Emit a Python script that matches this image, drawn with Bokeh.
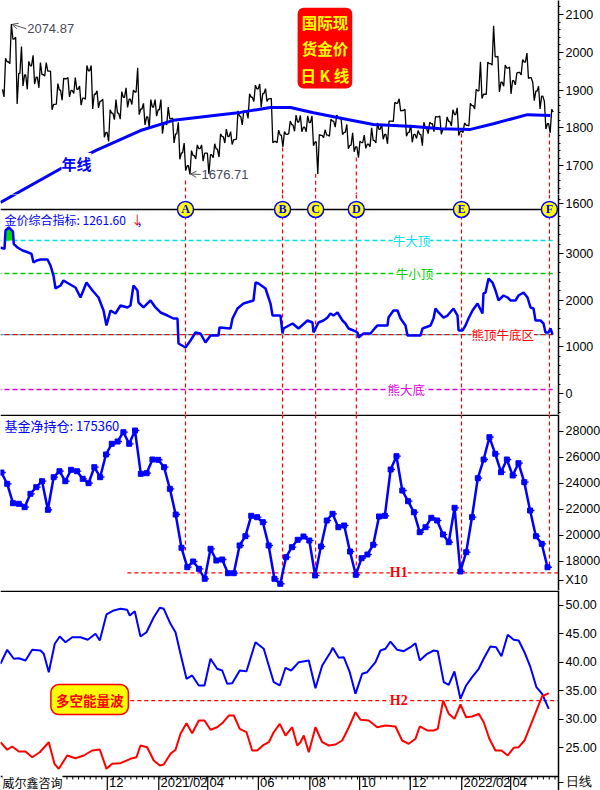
import datetime as dt
from bokeh.plotting import figure
from bokeh.layouts import column
from bokeh.models import Range1d, FixedTicker, Label, Span, Arrow, OpenHead, NumeralTickFormatter
from bokeh.core.properties import value
from bokeh.embed import file_html
from bokeh.resources import INLINE

# ---------------- DATA (x unit = weeks since 2020-07-27) ----------------
START = dt.date(2020, 7, 27)

# weekly gold price, week k = 0..94
price_open0 = 1902
price_high = [1984, 2074.87, 2040, 2015, 1976, 1992, 1973, 1973, 1950, 1917,
              1931, 1933, 1933, 1911, 1965, 1965, 1898, 1876, 1848, 1875,
              1896, 1906, 1900, 1959, 1865, 1875, 1875, 1875, 1855, 1826,
              1815, 1760, 1740, 1755, 1755, 1733, 1758, 1784, 1797, 1790,
              1845, 1845, 1890, 1913, 1916, 1904, 1878, 1794, 1790, 1818,
              1834, 1833, 1832, 1832, 1782, 1795, 1823, 1834, 1827, 1809,
              1787, 1765, 1781, 1800, 1813, 1810, 1818, 1868, 1877, 1849,
              1808, 1793, 1815, 1815, 1830, 1831, 1829, 1848, 1853, 1813,
              1865, 1902, 1975, 1974, 2070, 1989, 1966, 1961, 1945, 1981,
              1998, 1920, 1910, 1870, 1849]
price_low = [1882, 1970, 1863, 1911, 1902, 1916, 1906, 1937, 1848, 1863,
             1873, 1882, 1891, 1860, 1876, 1850, 1853, 1775, 1764, 1822,
             1823, 1854, 1862, 1835, 1808, 1802, 1831, 1785, 1808, 1760,
             1717, 1687, 1676.71, 1718, 1712, 1678, 1721, 1723, 1760, 1756,
             1770, 1808, 1825, 1870, 1855, 1870, 1761, 1761, 1750, 1785,
             1791, 1790, 1790, 1753, 1678, 1774, 1778, 1802, 1782, 1745,
             1737, 1721, 1746, 1750, 1760, 1770, 1758, 1817, 1845, 1778,
             1762, 1772, 1753, 1785, 1790, 1783, 1795, 1805, 1780, 1788,
             1805, 1850, 1878, 1889, 1966, 1895, 1910, 1890, 1914, 1940,
             1931, 1872, 1850, 1797, 1787]
price_close = [1975, 2035, 1944, 1940, 1964, 1934, 1941, 1950, 1862, 1900,
               1930, 1899, 1902, 1879, 1951, 1889, 1871, 1788, 1839, 1839,
               1881, 1876, 1895, 1850, 1829, 1855, 1848, 1813, 1824, 1784,
               1734, 1700, 1727, 1745, 1733, 1729, 1744, 1777, 1777, 1769,
               1831, 1843, 1881, 1903, 1891, 1877, 1764, 1781, 1783, 1808,
               1815, 1802, 1814, 1763, 1780, 1781, 1818, 1827, 1788, 1754,
               1750, 1761, 1757, 1767, 1796, 1783, 1818, 1865, 1846, 1788,
               1783, 1783, 1798, 1811, 1829, 1797, 1817, 1835, 1791, 1807,
               1859, 1898, 1889, 1970, 1988, 1921, 1958, 1925, 1947, 1974,
               1933, 1897, 1884, 1811, 1842]

# 年线 (annual moving average)
ma_x = [-0.24, 10.09, 16.11, 23.85, 29.53, 37.62, 41.06, 46.23, 49.67, 53.63,
        59.48, 63.95, 70.84, 75.49, 80.65, 84.6, 90.45, 94.41]
ma_v = [1603, 1692, 1740, 1793, 1820, 1835, 1841, 1854, 1854, 1840,
        1822, 1809, 1804, 1798, 1796, 1811, 1835, 1833]

# 金价综合指标
idx_x = [-0.24, 0.45, 0.62, 1.2, 1.9, 2.05, 2.69, 3.55, 4.58, 5.1,
         5.44, 6.0, 6.64, 7.85, 8.36, 8.88, 9.23, 10.09, 10.6, 11.46,
         12.67, 13.53, 14.56, 15.59, 16.63, 17.49, 18.0, 18.69, 19.55, 20.41,
         21.62, 22.13, 22.65, 23.34, 23.51, 24.37, 25.58, 26.44, 27.30, 28.5,
         29.53, 30.22, 30.40, 31.60, 32.46, 33.32, 34.18, 35.04, 35.90, 37.28,
         37.45, 39.35, 39.69, 40.55, 41.58, 43.30, 43.65, 44.17, 45.37, 46.23,
         46.58, 47.95, 48.30, 48.47, 50.02, 51.05, 52.6, 53.46, 53.63, 54.49,
         55.35, 56.04, 56.55, 57.07, 57.76, 58.62, 59.14, 59.66, 60.52, 61.21,
         61.38, 62.24, 63.44, 64.3, 64.65, 66.37, 66.54, 67.4, 68.09, 68.61,
         69.47, 69.81, 72.05, 72.39, 73.77, 74.29, 74.63, 75.15, 76.01, 76.70,
         77.73, 78.42, 78.60, 79.29, 79.79, 80.31, 81.0, 81.86, 82.72, 82.89,
         83.24, 83.76, 84.44, 84.96, 85.48, 86.34, 87.03, 87.54, 88.40, 88.92,
         89.78, 90.47, 90.98, 91.50, 91.84, 92.70, 93.22, 93.56, 94.08, 94.42,
         94.77]
idx_v = [3128, 3100, 3493, 3557, 3470, 3200, 3128, 3064, 3021, 2990,
         2807, 2850, 2871, 2871, 2743, 2528, 2250, 2314, 2421, 2357,
         2271, 2057, 2378, 2207, 2057, 1778, 1457, 1778, 1714, 1886,
         1843, 1886, 2314, 2207, 1950, 1843, 1993, 1843, 1736, 1671,
         1607, 1607, 1071, 986, 1136, 1307, 1286, 1093, 1243, 1243,
         1414, 1393, 1607, 1821, 1928, 1993, 2378, 2357, 2250, 1928,
         1671, 1671, 1286, 1393, 1500, 1393, 1564, 1521, 1307, 1521,
         1564, 1628, 1714, 1671, 1736, 1564, 1500, 1393, 1350, 1307,
         1200, 1286, 1286, 1414, 1457, 1457, 1628, 1778, 1778, 1607,
         1457, 1243, 1243, 1393, 1457, 1607, 1821, 1736, 1628, 1671,
         1821, 1671, 1350, 1350, 1457, 1607, 1778, 1928, 1714, 2143,
         2164, 2464, 2378, 2207, 1993, 2100, 2057, 1993, 1993, 2100,
         2164, 2057, 1843, 1821, 1564, 1564, 1500, 1307, 1307, 1393,
         1262]
level_vals = [3278, 2571, 1262, 86]
level_names = ["牛大顶", "牛小顶", "熊顶牛底区", "熊大底"]
level_colors = ["#00e0f0", "#00d000", "#ff0000", "#e000e0"]
level_label_x = [70.5, 71.0, 86.2, 69.6]

# 基金净持仓 (weekly, axis units = x10)
fund_start = -0.09
fund_vals = [24823, 23954, 22462, 22415, 22154, 23185, 23692, 24154, 21954, 24462, 24923,
             24154, 25031, 24923, 24338, 24000, 25231, 24462, 26208, 27031, 27208,
             27923, 27031, 28054, 24723, 24769, 25823, 25800, 25231, 23569, 21592,
             19031, 17538, 17977, 17415, 16646, 18954, 18054, 18131, 17077, 17077,
             19208, 19923, 21492, 21385, 21000, 19208, 16646, 16262, 18308, 19077,
             19646, 19900, 19592, 16900, 19131, 21131, 21646, 20615, 20746, 18746,
             16954, 18231, 18515, 19262, 21438, 21492, 25054, 26077, 23438, 22615,
             21769, 20231, 20615, 21338, 21131, 20054, 19462, 22108, 17208, 18692,
             21385, 24385, 25823, 27538, 26262, 24846, 25823, 24592, 25538, 24077,
             21900, 19923, 19338, 17536]
H1 = 17108
H1_from = 21.6

# 多空能量波
blue_x = [-0.24, 0.91, 2.05, 2.91, 4.06, 5.21, 6.64, 7.21, 8.07, 9.10, 9.96, 10.95,
          12.1, 13.53, 14.78, 16.11, 16.85, 18.0, 19.26, 20.41, 21.56, 22.01,
          22.87, 23.85, 24.89, 26.14, 27.18, 27.86, 29.02, 29.88, 30.74, 31.77,
          32.75, 33.89, 34.87, 35.9, 37.05, 37.92, 38.78, 39.64, 40.94, 42.10,
          43.64, 45.07, 46.79, 47.83, 48.81, 49.79, 51.1, 52.82, 53.97, 55.13,
          56.56, 56.95, 57.98, 58.84, 59.87, 60.85, 62.01, 62.87, 64.3, 65.16,
          66.02, 66.88, 68.04, 69.17, 70.32, 71.18, 71.92, 73.2, 74.33, 75.02,
          76.05, 76.91, 77.89, 78.92, 79.9, 80.93, 82.07, 83.05, 84.08, 85.06,
          85.98, 87.06, 88.09, 88.95, 89.94, 90.97, 92.0, 92.98, 94.12]
blue_v = [39.74, 42.2, 40.62, 40.7, 40.32, 42.2, 42.08, 41.5, 38.26, 43.26, 44.54, 43.54,
          44.42, 44.42, 43.96, 45.02, 43.84, 48.42, 49.12, 49.42, 49.24, 48.24,
          49.0, 44.54, 45.3, 47.94, 49.6, 49.42, 46.78, 45.3, 41.5, 37.1,
          37.68, 35.92, 35.92, 40.62, 38.86, 38.56, 36.22, 36.32, 38.56, 38.43,
          43.54, 42.38, 36.5, 35.92, 39.03, 38.56, 40.02, 40.32, 35.44, 39.44,
          41.78, 42.55, 40.79, 40.9, 38.26, 34.45, 37.98, 38.26, 40.02, 42.08,
          42.38, 43.66, 42.2, 41.95, 42.66, 43.36, 40.32, 41.5, 42.08, 41.95,
          36.5, 36.04, 38.38, 33.57, 35.92, 37.38, 38.86, 40.9, 42.78, 42.66,
          41.07, 44.84, 43.96, 43.84, 41.78, 39.14, 35.62, 34.45, 31.81]
red_x = [-0.24, 0.91, 1.77, 2.91, 4.06, 5.21, 6.52, 8.07, 9.05, 9.79,
         11.24, 12.67, 14.1, 15.54, 16.85, 18.0, 18.98, 20.41, 22.13, 23.16,
         23.85, 25.0, 26.14, 27.18, 27.86, 29.02, 29.88, 30.74, 31.77, 32.75,
         33.89, 34.87, 35.9, 37.05, 38.09, 39.05, 39.91, 40.94, 42.1, 43.08,
         43.94, 45.07, 45.94, 46.79, 47.83, 48.81, 49.97, 50.83, 51.39, 51.96,
         52.82, 53.97, 55.13, 56.26, 57.42, 58.57, 59.71, 60.85, 61.72, 63.15,
         64.59, 66.02, 67.74, 68.89, 70.03, 71.18, 71.92, 73.2, 74.33, 75.02,
         75.95, 76.91, 77.89, 78.92, 79.9, 80.93, 82.07, 82.93, 83.91, 84.94,
         85.98, 87.06, 88.09, 88.95, 89.94, 90.97, 92.0, 92.98, 94.12]
red_v = [25.93, 24.6, 25.18, 24.3, 24.3, 23.29, 24.17, 25.93, 22.13, 21.25,
         23.59, 23.12, 23.59, 24.47, 24.65, 21.25, 22.13, 22.24, 23.01, 23.29,
         25.35, 25.05, 22.71, 21.83, 22.01, 23.89, 24.6, 27.41, 29.28, 27.52,
         29.75, 29.75, 28.12, 28.57, 29.45, 30.63, 30.63, 28.29, 27.69, 24.47,
         24.47, 25.48, 25.93, 27.69, 29.17, 27.11, 28.57, 25.35, 25.93, 27.11,
         24.17, 28.57, 25.93, 25.35, 25.53, 26.23, 28.57, 31.21, 29.88, 29.75,
         28.57, 28.87, 28.7, 26.23, 25.65, 26.53, 28.7, 28.0, 28.0, 28.29,
         33.27, 30.93, 30.05, 32.57, 30.33, 30.46, 30.93, 29.45, 26.53, 24.47,
         24.47, 23.59, 24.95, 25.05, 26.23, 28.87, 31.51, 33.98, 34.56]
H2 = 33.27
H2_from = 22.1

# A-F markers
letters = ["A", "B", "C", "D", "E", "F"]
letter_x = [31.6, 48.3, 54.0, 61.0, 79.1, 94.24]
letter_price = [1661, 1748, 1679, 1722, 1785, 1785]
letter_fund_end = [18820, 15900, 16770, 16770, 17150, 17540]

# time axis
tick_dates = ["2020-10-01", "2020-12-01", "2021-02-01", "2021-04-01", "2021-06-01",
              "2021-08-02", "2021-10-01", "2021-12-01", "2022-02-01", "2022-04-01"]
tick_text = ["10", "12", "2021/02", "04", "06", "08", "10", "12", "2022/02", "04"]

# ---------------- LAYOUT ----------------
FW = 558
X0, X1 = -0.24, 95.8
xr = Range1d(X0, X1)
Y1 = (1623.8, 2137.0)     # price
Y2 = (-450.0, 4264.0)     # composite index (top strip holds the bottom of the price area)
Y2P = (1041.8, 1623.8)    # price scale continued inside panel 2
SEP2 = 3943.0             # separator between price and index panels
Y3 = (15746.0, 29285.0)   # fund net position (x10)
Y4 = (17.43, 52.64)       # energy wave, bottom strip holds the time axis
AX4 = 19.89               # time-axis line inside panel 4
NUM = "Liberation Sans"
CJK = "Noto Sans CJK SC"
BLUE = "#0000ff"
RED = "#ff0000"


def make(fh, yr):
    p = figure(frame_width=FW, frame_height=fh, x_range=xr, y_range=Range1d(*yr),
               output_backend="svg", toolbar_location=None,
               y_axis_location="right", x_axis_location=None,
               min_border_left=0, min_border_right=42, min_border_top=0,
               min_border_bottom=0,
               background_fill_color="white", border_fill_color="white",
               outline_line_color=None)
    p.grid.visible = False
    ya = p.yaxis[0]
    ya.axis_line_color = "black"
    ya.axis_line_width = 1.5
    ya.major_tick_in = 0
    ya.major_tick_out = 5
    ya.minor_tick_in = 0
    ya.minor_tick_out = 2
    ya.major_label_standoff = 2
    ya.major_label_text_font = NUM
    ya.major_label_text_font_size = "12.5px"
    ya.major_label_text_color = "black"
    return p


def px(yr, fh, n):
    return (yr[1] - yr[0]) / fh * n


# ---- Panel 1: price ----
H1F = 194
p1 = make(H1F, Y1)
p1.yaxis.ticker = FixedTicker(ticks=list(range(1700, 2101, 100)),
                              minor_ticks=list(range(1640, 2121, 20)))
zx, zy = [], []
prev = price_open0
for k, (h, l, c) in enumerate(zip(price_high, price_low, price_close)):
    seq = [prev, l, h, c] if c >= prev else [prev, h, l, c]
    for f, v in zip((0.1, 0.37, 0.63, 0.9), seq):
        zx.append(k + f)
        zy.append(v)
    prev = c
p1.segment(x0=letter_x, y0=letter_price, x1=letter_x, y1=[Y1[0]] * 6,
           line_color=RED, line_dash="4 3", line_width=1.2)
p1.line(zx, zy, line_color="black", line_width=1.3)
p1.line(ma_x, ma_v, line_color=BLUE, line_width=3)
p1.add_layout(Label(x=12.84, y=1706, text="年线", text_font=CJK, text_font_size="15px",
                    text_font_style="bold", text_color=BLUE, text_align="center",
                    text_baseline="middle", background_fill_color="white"))
p1.add_layout(Arrow(x_start=4.2, y_start=2062, x_end=1.75, y_end=2074,
                    line_color="#555", line_width=1,
                    end=OpenHead(size=6, line_color="#555", line_width=1)))
p1.add_layout(Label(x=4.35, y=2062, text="2074.87", text_font=NUM, text_font_size="13px",
                    text_color="#4a4a5a", text_align="left", text_baseline="middle"))
p1.add_layout(Arrow(x_start=34.2, y_start=1676.7, x_end=32.45, y_end=1678,
                    line_color="#555", line_width=1,
                    end=OpenHead(size=6, line_color="#555", line_width=1)))
p1.add_layout(Label(x=34.35, y=1676.7, text="1676.71", text_font=NUM, text_font_size="13px",
                    text_color="#4a4a5a", text_align="left", text_baseline="middle"))
p1.add_layout(Label(x=55.6, y=2011, text="国际现\n货金价\n日 K 线", text_font=CJK,
                    text_font_size="15.5px", text_font_style="bold", text_color="#ffff00",
                    text_align="center", text_baseline="middle",
                    background_fill_color=RED, border_radius=6, padding=3))

# ---- Panel 2: composite index ----
H2F = 220
p2 = make(H2F, Y2)
p2.extra_y_ranges = {"price": Range1d(*Y2P)}
p2.yaxis.ticker = FixedTicker(ticks=[0, 1000, 2000, 3000, 4071],
                              minor_ticks=list(range(-400, 3901, 200)) + [4160])
p2.yaxis.major_label_overrides = {4071: "1600"}
p2.add_layout(Span(location=SEP2, dimension="width", line_color="black",
                   line_width=1.5, level="underlay"))
p2.line(ma_x, ma_v, line_color=BLUE, line_width=3, y_range_name="price")
p2.segment(x0=letter_x, y0=[Y2[1]] * 6, x1=letter_x, y1=[Y2[0]] * 6,
           line_color=RED, line_dash="4 3", line_width=1.2)
line_end = 94.8
p2.segment(x0=[X0], y0=[level_vals[2]], x1=[line_end], y1=[level_vals[2]],
           line_color=level_colors[0], line_dash="5 3", line_width=1.3)
for v, col in zip(level_vals, level_colors):
    p2.segment(x0=[X0], y0=[v], x1=[line_end], y1=[v], line_color=col,
               line_dash="5 3", line_dash_offset=4, line_width=1.3)
gx = [x for x, v in zip(idx_x, idx_v) if v > level_vals[0]]
gv = [v for v in idx_v if v > level_vals[0]]
p2.varea(x=gx, y1=[level_vals[0]] * len(gx), y2=gv, fill_color="#00e000")
p2.line(idx_x, idx_v, line_color=BLUE, line_width=2.5)
for v, col, name, lx in zip(level_vals, level_colors, level_names, level_label_x):
    p2.add_layout(Label(x=lx, y=v, text=name, text_font=CJK, text_font_size="12.5px",
                        text_color=col, text_align="center", text_baseline="middle",
                        background_fill_color="white"))
p2.scatter(letter_x, [SEP2] * 6, marker="circle", size=16,
           fill_color="#ffff00", line_color=BLUE, line_width=1.5)
p2.text(letter_x, [SEP2] * 6, text=letters, text_color=BLUE,
        text_font=value("Liberation Serif"), text_font_style="bold",
        text_font_size=value("12px"), text_align="center", text_baseline="middle")
p2.add_layout(Label(x=0.45, y=3728, text="金价综合指标: 1261.60", text_font=CJK,
                    text_font_size="12px", text_color=BLUE, text_align="left",
                    text_baseline="middle"))
p2.add_layout(Label(x=22.2, y=3728, text="↓", text_font=CJK, text_font_size="12.5px",
                    text_color=RED, text_align="left", text_baseline="middle"))
p2.add_layout(Label(x=23.4, y=3728, text=",", text_font=CJK, text_font_size="12.5px",
                    text_color=BLUE, text_align="left", text_baseline="middle"))

# ---- Panel 3: fund net position ----
H3F = 176
p3 = make(H3F, Y3)
p3.yaxis.ticker = FixedTicker(ticks=list(range(18000, 28001, 2000)) + [16516])
p3.yaxis.major_label_overrides = {16516: "X10"}
p3.add_layout(Span(location=Y3[1] - px(Y3, H3F, 0.75), dimension="width",
                   line_color="black", line_width=1.5, level="underlay"))
p3.segment(x0=letter_x, y0=[Y3[1]] * 6, x1=letter_x, y1=letter_fund_end,
           line_color=RED, line_dash="4 3", line_width=1.2)
p3.segment(x0=[H1_from], y0=[H1], x1=[X1], y1=[H1], line_color=RED,
           line_dash="4 3", line_width=1.2)
fx = [fund_start + i for i in range(len(fund_vals))]
p3.line(fx, fund_vals, line_color=BLUE, line_width=2.5)
p3.segment(x0=fx, y0=fund_vals, x1=[x + 0.75 for x in fx], y1=fund_vals,
           line_color=BLUE, line_width=1.3)
p3.scatter(fx, fund_vals, marker="square", size=5, fill_color=BLUE, line_color=BLUE)
p3.add_layout(Label(x=68.3, y=H1, text="H1", text_font="Liberation Serif",
                    text_font_size="14px", text_font_style="bold", text_color=RED,
                    text_align="center", text_baseline="middle",
                    background_fill_color="white"))
p3.add_layout(Label(x=0.45, y=28438, text="基金净持仓: 175360", text_font=CJK,
                    text_font_size="13px", text_color=BLUE, text_align="left",
                    text_baseline="middle"))

# ---- Panel 4: long/short energy + time axis ----
H4F = 200
p4 = make(H4F, Y4)
lab_y = round(50 - 177 / 5.68, 2)
p4.yaxis.ticker = FixedTicker(ticks=[25, 30, 35, 40, 45, 50, lab_y])
p4.yaxis.formatter = NumeralTickFormatter(format="0.00")
p4.yaxis.major_label_overrides = {lab_y: "日线"}
p4.add_layout(Span(location=Y4[1] - px(Y4, H4F, 0.75), dimension="width",
                   line_color="black", line_width=1.5, level="underlay"))
p4.add_layout(Span(location=AX4, dimension="width", line_color="black",
                   line_width=1.5))
p4.segment(x0=[H2_from], y0=[H2], x1=[X1], y1=[H2], line_color=RED,
           line_dash="4 3", line_width=1.2)
p4.line(blue_x, blue_v, line_color=BLUE, line_width=2)
p4.line(red_x, red_v, line_color=RED, line_width=2)
p4.add_layout(Label(x=68.3, y=H2, text="H2", text_font="Liberation Serif",
                    text_font_size="14px", text_font_style="bold", text_color=RED,
                    text_align="center", text_baseline="middle",
                    background_fill_color="white"))
p4.add_layout(Label(x=15.1, y=33.45, text="多空能量波", text_font=CJK,
                    text_font_size="13.5px", text_font_style="bold", text_color=RED,
                    text_align="center", text_baseline="middle",
                    background_fill_color="#ffff00", border_line_color=RED,
                    border_line_width=1.5, border_radius=8, padding=5))
tick_w = [(dt.date.fromisoformat(d) - START).days / 7 for d in tick_dates]
minor_w = [k + 0.2 for k in range(0, 96)]
p4.segment(x0=minor_w, y0=[AX4] * len(minor_w), x1=minor_w,
           y1=[AX4 - px(Y4, H4F, 3)] * len(minor_w), line_color="black", line_width=1)
p4.segment(x0=tick_w, y0=[AX4] * len(tick_w), x1=tick_w, y1=[Y4[0]] * len(tick_w),
           line_color="black", line_width=1.2)
for w, t in zip(tick_w[1:], tick_text[1:]):
    p4.add_layout(Label(x=w + 0.3, y=lab_y, text=t, text_font=NUM,
                        text_font_size="13px", text_color="black",
                        text_align="left", text_baseline="middle"))
p4.add_layout(Label(x=0.1, y=lab_y, text="威尔鑫咨询", text_font=CJK,
                    text_font_size="12px", text_color="black", text_align="left",
                    text_baseline="middle", background_fill_color="white", padding=0))

layout = column(p1, p2, p3, p4, spacing=0)
open("out.html", "w").write(file_html(layout, INLINE))
